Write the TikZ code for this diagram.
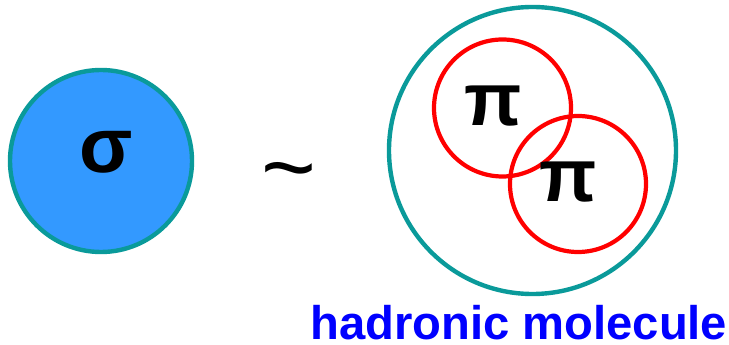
\documentclass[tikz,border=0pt]{standalone}
\usepackage{fontspec}
\setmainfont{Liberation Sans}
\definecolor{tealring}{HTML}{0A9A9A}
\definecolor{ballblue}{HTML}{3399FF}
\definecolor{ringred}{HTML}{FF0000}
\definecolor{labelblue}{HTML}{0000FF}
\tikzset{
  ring/.style={draw=tealring, line width=4.4pt},
  pionring/.style={draw=ringred, line width=4.2pt},
  bigglyph/.style={inner sep=0pt, anchor=base, font=\fontsize{78}{78}\selectfont\bfseries}
}
\begin{document}
\begin{tikzpicture}[x=1pt,y=1pt]
\useasboundingbox (0,0) rectangle (729,345);
% sigma ball
\node[circle, minimum size=182pt, inner sep=0pt, ring, fill=ballblue] (sigma) at (101,184) {};
\node[bigglyph] (sig) at (106,172) {σ};
% tilde
\node[inner sep=0pt, anchor=base, font=\fontsize{94}{94}\selectfont] (tilde) at (289,145) {\textasciitilde};
% molecule
\node[circle, minimum size=287pt, inner sep=0pt, ring] (mol) at (532.5,194.5) {};
\node[circle, minimum size=137pt, inner sep=0pt, pionring] (pa) at (502.5,237) {};
\node[circle, minimum size=136pt, inner sep=0pt, pionring] (pb) at (578,161) {};
\node[bigglyph, font=\fontsize{75}{75}\selectfont\bfseries] (pia) at (493,219) {π};
\node[bigglyph, font=\fontsize{75}{75}\selectfont\bfseries] (pib) at (568,143) {π};
% label
\node[inner sep=0pt, text depth=0pt, anchor=base west, text=labelblue, font=\fontsize{47.2}{47.2}\selectfont\bfseries] (lab) at (310,5) {hadronic molecule};
\end{tikzpicture}
\end{document}
